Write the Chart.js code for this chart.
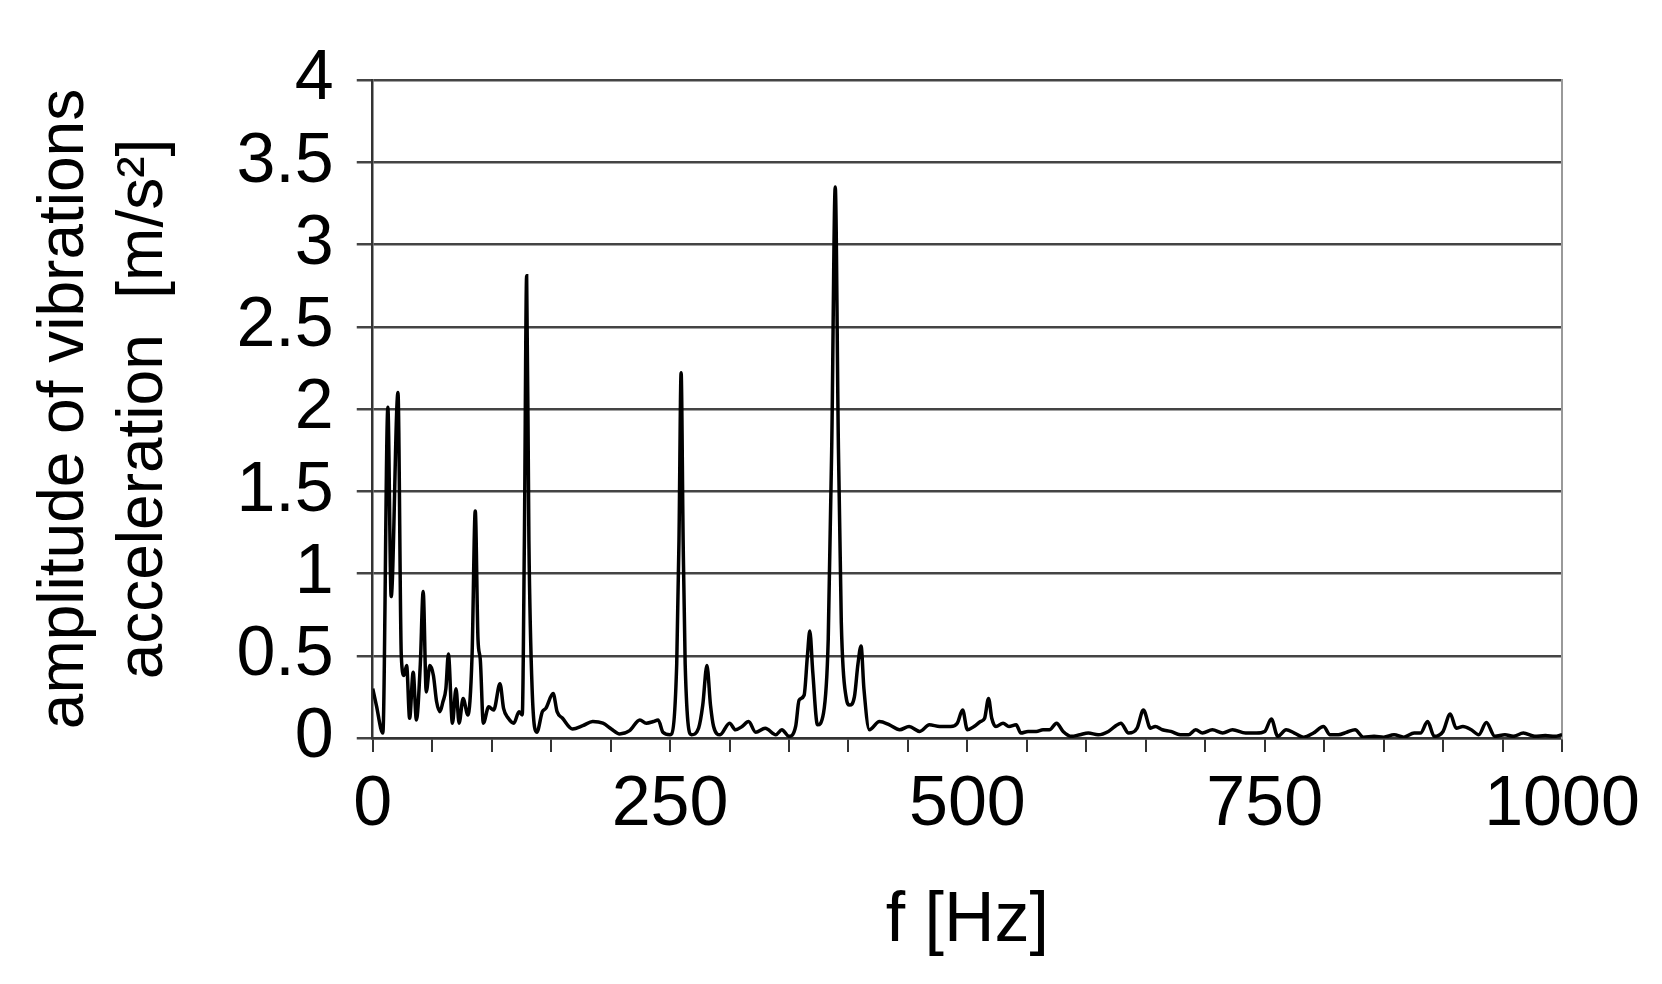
<!DOCTYPE html>
<html>
<head>
<meta charset="utf-8">
<script src="https://cdn.jsdelivr.net/npm/chart.js@4/dist/chart.umd.min.js"></script>
<style>
  body { margin: 0; background: #fff; }
  #wrap { width: 1662px; height: 984px; }
</style>
</head>
<body>
<div id="wrap"><canvas id="chart" width="1662" height="984"></canvas></div>
<script>
// frequency [Hz] and amplitude [m/s^2]
let freqs = [
    0, 3, 8.5, 12.7, 15.5, 21.2, 24, 26.3, 28.5, 31, 34, 36.7, 40, 42.4, 45, 48, 51, 53.7, 56.5, 59,
    61.5, 63.6, 67, 70, 72.6, 76, 80, 83.5, 86.2, 88.5, 90.4, 93, 97.5, 101.7, 107, 110, 114, 118.6, 123, 125.7,
    127.5, 129.4, 131.3, 134, 138, 142.6, 145.5, 151.7, 155, 159.6, 168, 176.6, 185, 193.5, 200.6, 207.6, 216, 224.6, 230, 236,
    240, 244, 250, 255.6, 257.5, 259.3, 261, 262.7, 268, 274, 277.5, 281, 284, 286.6, 292, 300, 305, 310.6, 316, 322,
    330, 339, 344, 350, 355.6, 358.5, 362.7, 365.5, 367.5, 370, 374, 379, 383, 386, 388.9, 391.5, 394, 398, 401, 405,
    408, 410.6, 413, 417.6, 426, 434.5, 443, 451, 460, 468, 476.7, 486, 491.5, 496, 500, 505.6, 511, 514.5, 517.8, 520.5,
    524, 530, 535, 541, 545, 551, 558, 563.6, 569, 575, 580.5, 587.6, 594.6, 601.7, 610, 618.6, 624, 629, 635.6, 642.7,
    648, 654, 658, 664, 671, 679, 686, 692, 697.7, 706, 714.7, 723, 734, 743, 750, 755.6, 761, 768, 775, 782.5,
    791, 799.4, 805, 812, 819, 826, 833, 842, 850, 858.8, 867, 875.7, 881, 887, 892.6, 900, 906, 911, 916.7, 923.7,
    930, 936.4, 943.5, 952, 959, 967.5, 977, 986, 994, 1000
];
let amps = [
    0.30, 0.2, 0.03, 2.01, 0.86, 2.10, 0.50, 0.38, 0.44, 0.12, 0.40, 0.11, 0.45, 0.89, 0.28, 0.44, 0.38, 0.22, 0.16, 0.22,
    0.3, 0.51, 0.09, 0.30, 0.09, 0.24, 0.14, 0.5, 1.38, 0.6, 0.48, 0.09, 0.19, 0.17, 0.33, 0.18, 0.12, 0.09, 0.16, 0.14,
    1.2, 2.81, 1.2, 0.3, 0.035, 0.16, 0.18, 0.27, 0.16, 0.12, 0.055, 0.075, 0.1, 0.09, 0.055, 0.025, 0.045, 0.11, 0.09, 0.1,
    0.11, 0.035, 0.02, 0.45, 1.2, 2.22, 1.2, 0.45, 0.02, 0.06, 0.2, 0.44, 0.2, 0.07, 0.02, 0.09, 0.05, 0.07, 0.1, 0.035,
    0.06, 0.02, 0.05, 0.01, 0.07, 0.23, 0.26, 0.5, 0.65, 0.4, 0.08, 0.15, 0.6, 1.8, 3.35, 1.8, 0.7, 0.25, 0.2, 0.25,
    0.45, 0.56, 0.3, 0.05, 0.1, 0.08, 0.05, 0.07, 0.04, 0.08, 0.07, 0.07, 0.09, 0.17, 0.05, 0.07, 0.1, 0.12, 0.24, 0.12,
    0.07, 0.09, 0.07, 0.08, 0.03, 0.04, 0.04, 0.05, 0.05, 0.09, 0.04, 0.01, 0.02, 0.03, 0.02, 0.04, 0.07, 0.09, 0.03, 0.06,
    0.17, 0.06, 0.07, 0.05, 0.04, 0.02, 0.02, 0.05, 0.03, 0.05, 0.03, 0.05, 0.03, 0.03, 0.04, 0.115, 0.01, 0.05, 0.03, 0.005,
    0.03, 0.07, 0.02, 0.02, 0.035, 0.05, 0.005, 0.01, 0.005, 0.02, 0.005, 0.03, 0.03, 0.1, 0.01, 0.04, 0.146, 0.06, 0.07, 0.05,
    0.02, 0.094, 0.01, 0.02, 0.01, 0.03, 0.01, 0.015, 0.01, 0.02
];

let xLabels = [0, 250, 500, 750, 1000];
let yTicks = [0, 0.5, 1, 1.5, 2, 2.5, 3, 3.5, 4];

let yTitle = ['amplitude of vibrations', 'acceleration  [m/s\u00B2]'];
let xTitle = 'f [Hz]';

let fontFam = '"Liberation Sans", Arial, sans-serif';

let points = freqs.map((f, i) => ({ x: f, y: amps[i] }));

let ctx = document.getElementById('chart').getContext('2d');

let chart = new Chart(ctx, {
    type: 'line',
    data: {
        datasets: [{
            data: points,
            borderColor: '#000',
            borderWidth: 3.5,
            pointRadius: 0,
            fill: false,
            cubicInterpolationMode: 'monotone'
        }]
    },
    options: {
        responsive: false,
        animation: false,
        layout: {
            padding: { left: 0, right: 100, top: 80, bottom: 10 }
        },
        plugins: {
            legend: { display: false },
            tooltip: { enabled: false }
        },
        scales: {
            x: {
                type: 'linear',
                min: 0,
                max: 1000,
                grid: {
                    drawOnChartArea: false,
                    drawTicks: true,
                    tickLength: 14,
                    color: '#333',
                    lineWidth: 2
                },
                border: { color: '#333', width: 2.5 },
                ticks: {
                    stepSize: 50,
                    autoSkip: false,
                    maxRotation: 0,
                    padding: 12,
                    color: '#000',
                    font: { family: fontFam, size: 70 },
                    callback: v => xLabels.includes(v) ? String(v) : ''
                },
                title: {
                    display: true,
                    text: xTitle,
                    color: '#000',
                    font: { family: fontFam, size: 70 },
                    padding: { top: 20, bottom: 10 }
                }
            },
            y: {
                min: 0,
                max: 4,
                afterBuildTicks: axis => { axis.ticks = yTicks.map(v => ({ value: v })); },
                grid: {
                    color: '#444',
                    lineWidth: 2.5,
                    drawTicks: true,
                    tickLength: 16
                },
                border: { color: '#333', width: 2.5 },
                ticks: {
                    autoSkip: false,
                    padding: 23,
                    color: '#000',
                    font: { family: fontFam, size: 70 },
                    callback: v => String(v)
                },
                title: {
                    display: true,
                    text: yTitle,
                    color: '#000',
                    font: { family: fontFam, size: 64, lineHeight: 1.23 },
                    padding: { top: 26, bottom: 30 }
                }
            },
            y2: {
                position: 'right',
                min: 0,
                max: 4,
                ticks: { display: false },
                grid: { display: false, drawTicks: false },
                border: { display: true, color: '#999', width: 2 }
            }
        }
    }
});
</script>
</body>
</html>
